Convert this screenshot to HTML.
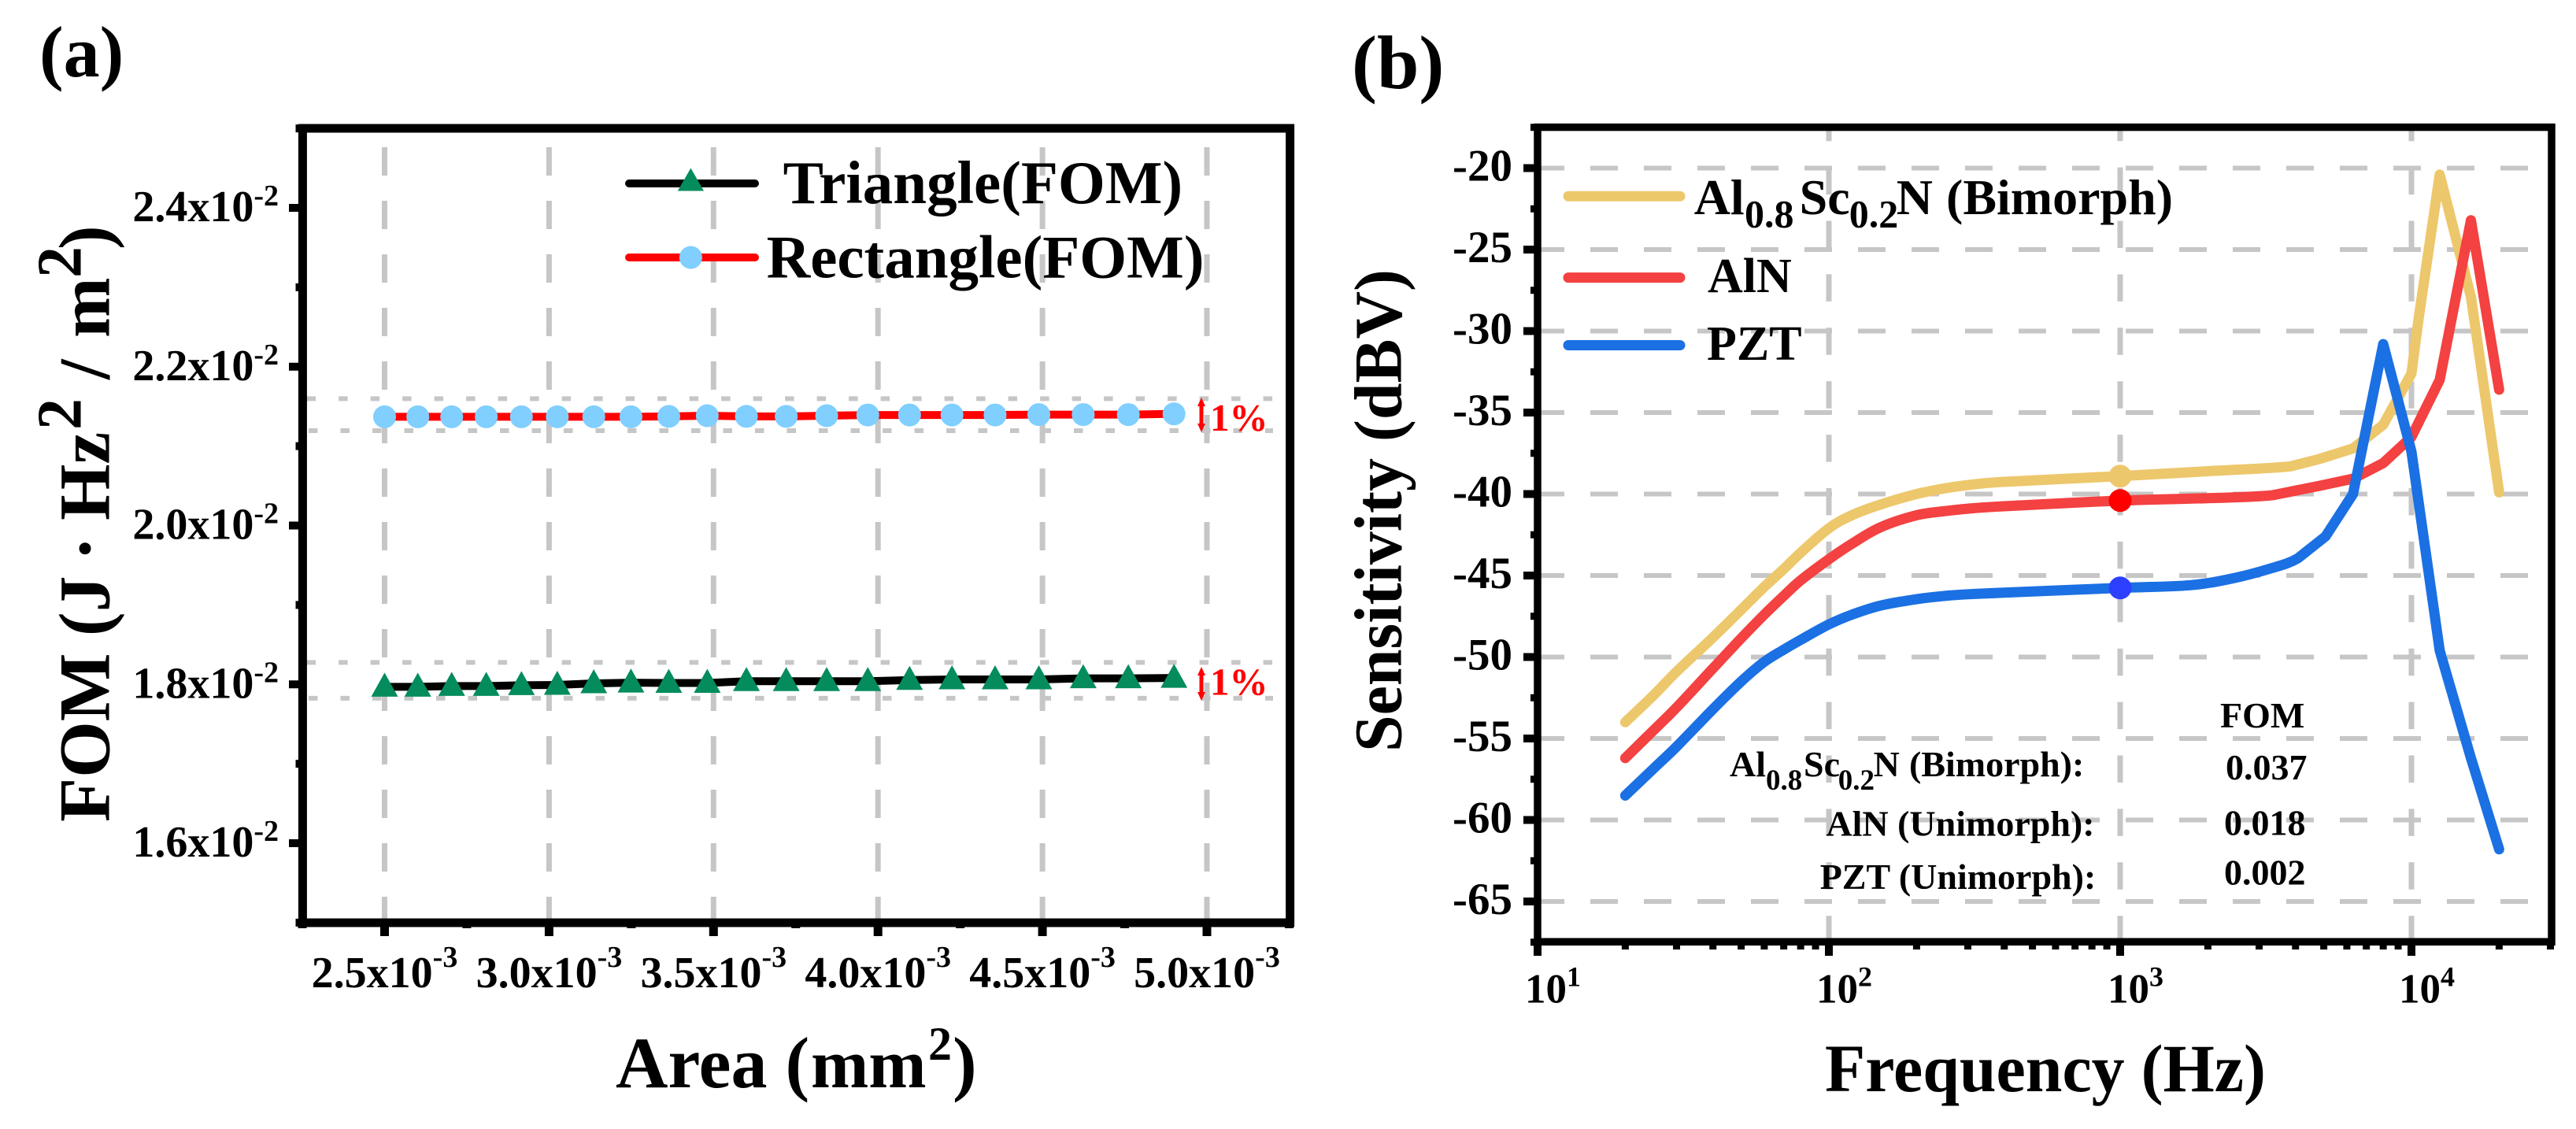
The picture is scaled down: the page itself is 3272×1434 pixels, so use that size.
<!DOCTYPE html>
<html lang="en">
<head>
<meta charset="utf-8">
<title>FOM and Sensitivity Charts</title>
<style>
html,body{margin:0;padding:0;background:#fff;}
svg{display:block;font-family:"Liberation Serif",serif;font-weight:bold;}
</style>
</head>
<body>
<svg id="chart" xmlns="http://www.w3.org/2000/svg" width="3272" height="1434" viewBox="0 0 3272 1434">
  <rect width="3272" height="1434" fill="#fff"/>
  <g id="a-grid"></g>
  <g id="b-grid"></g>
  <g id="a-series"></g>
  <g id="b-series"></g>
  <g id="a-axes"></g>
  <g id="b-axes"></g>

  <text x="50" y="97" font-size="92">(a)</text>
  <text x="1717" y="112" font-size="96">(b)</text>

  <text x="782" y="1381" font-size="92">Area (<tspan x="1030" font-size="88">mm</tspan><tspan x="1179" y="1346" font-size="60">2</tspan><tspan x="1210" y="1381">)</tspan></text>
  <g transform="translate(138.6,1044) rotate(-90)">
    <text font-size="92" x="0" y="0">FOM<tspan x="236">(J</tspan><tspan x="332">·</tspan><tspan x="383">Hz</tspan><tspan x="498" y="-36" font-size="80">2</tspan><tspan x="562" y="0">/</tspan><tspan x="615">m</tspan><tspan x="691" y="-36" font-size="80">2</tspan><tspan x="727" y="0">)</tspan></text>
  </g>

  <g>
    <line x1="799" y1="233" x2="959" y2="233" stroke="#000" stroke-width="10" stroke-linecap="round"/>
    <polygon points="877.4,213.5 894,242.5 860.8,242.5" fill="#048C5C"/>
    <text x="994.6" y="258" font-size="77">Triangle(FOM)</text>
    <line x1="799" y1="327" x2="959" y2="327" stroke="#f00" stroke-width="10" stroke-linecap="round"/>
    <circle cx="877.4" cy="327" r="14.5" fill="#80CFFF"/>
    <text x="973.6" y="352.6" font-size="77">Rectangle(FOM)</text>
  </g>

  <g fill="#f00">
    <rect x="1523.5" y="512" width="5" height="30"/>
    <polygon points="1526,505 1531,516 1521,516"/>
    <polygon points="1526,549 1531,538 1521,538"/>
    <text x="1537" y="547" font-size="49">1%</text>
  </g>
  <g fill="#f00">
    <rect x="1523.5" y="855" width="5" height="27"/>
    <polygon points="1526,847 1531,858 1521,858"/>
    <polygon points="1526,890 1531,879 1521,879"/>
    <text x="1537" y="882.6" font-size="49">1%</text>
  </g>

  <text x="2318" y="1386" font-size="86" textLength="560" lengthAdjust="spacingAndGlyphs">Frequency (Hz)</text>
  <text transform="translate(1779.4,955) rotate(-90)" font-size="86" x="0" y="0" textLength="613" lengthAdjust="spacingAndGlyphs">Sensitivity (dBV)</text>

  <g>
    <line x1="1992" y1="249.3" x2="2134" y2="249.3" stroke="#EDC76B" stroke-width="13" stroke-linecap="round"/>
    <text y="271.8" font-size="64"><tspan x="2151.7">Al</tspan><tspan x="2216" y="288.3" font-size="50">0.8</tspan><tspan x="2285.6" y="271.8">Sc</tspan><tspan x="2348.8" y="288.3" font-size="50">0.2</tspan><tspan x="2408.8" y="271.8">N</tspan><tspan x="2472">(Bimorph)</tspan></text>
    <line x1="1992" y1="352.6" x2="2134" y2="352.6" stroke="#F44141" stroke-width="13" stroke-linecap="round"/>
    <text x="2169" y="371" font-size="62">AlN</text>
    <line x1="1992" y1="438.5" x2="2134" y2="438.5" stroke="#1B70E3" stroke-width="13" stroke-linecap="round"/>
    <text x="2168" y="456.8" font-size="62">PZT</text>
  </g>

  <g font-size="46">
    <text x="2820" y="923.8">FOM</text>
    <text y="986"><tspan x="2197">Al</tspan><tspan x="2243" y="1003" font-size="37">0.8</tspan><tspan x="2291" y="986">Sc</tspan><tspan x="2334.7" y="1003" font-size="37">0.2</tspan><tspan x="2379.6" y="986">N</tspan><tspan x="2425">(Bimorph):</tspan></text>
    <text x="2827" y="990">0.037</text>
    <text x="2319.4" y="1061.7">AlN (Unimorph):</text>
    <text x="2825" y="1060.5">0.018</text>
    <text x="2311.7" y="1129">PZT (Unimorph):</text>
    <text x="2825" y="1123.7">0.002</text>
  </g>
</svg>

<script>
// ---- Panel (a) data ----
const areaValues = [2.5, 2.601, 2.704, 2.809, 2.916, 3.025, 3.136, 3.249, 3.364, 3.481, 3.6, 3.721, 3.844, 3.969, 4.096, 4.225, 4.356, 4.489, 4.624, 4.761, 4.9];
const triangleFom = [1.7969, 1.7969, 1.7979, 1.7979, 1.7989, 1.7993, 1.8012, 1.8021, 1.8017, 1.8017, 1.804, 1.804, 1.804, 1.804, 1.8054, 1.8062, 1.8062, 1.8062, 1.8076, 1.8076, 1.808];
const rectangleFom = [2.1369, 2.1369, 2.1369, 2.1369, 2.1369, 2.1369, 2.1369, 2.1369, 2.1374, 2.1383, 2.1374, 2.1374, 2.1383, 2.1392, 2.1392, 2.1392, 2.1392, 2.1397, 2.1397, 2.1397, 2.1406];
const bandValues = [2.1597, 2.1195, 1.8276, 1.7825];
const aXTicks = [2.5, 3.0, 3.5, 4.0, 4.5, 5.0];
const aXMinorTicks = [2.25, 2.75, 3.25, 3.75, 4.25, 4.75, 5.25];
const aYTicks = [2.4, 2.2, 2.0, 1.8, 1.6];
const aYMinorTicks = [2.5, 2.3, 2.1, 1.9, 1.7, 1.5];

// ---- Panel (b) data ----
const alscnFreq = [20, 25, 30, 40, 50, 60, 70, 80, 100, 120, 150, 200, 250, 300, 400, 1000, 2000, 3846, 4830, 6300, 8000, 10000, 10570, 12500, 16000, 20000];
const alscnSens = [-54, -52.35, -50.9, -48.8, -47.1, -45.7, -44.6, -43.6, -42.1, -41.3, -40.65, -40, -39.65, -39.45, -39.25, -38.9, -38.6, -38.3, -37.85, -37.2, -35.75, -32.6, -29.3, -20.4, -27.9, -39.9];
const alnFreq = [20, 25, 30, 40, 50, 60, 70, 80, 100, 120, 150, 200, 250, 300, 400, 1000, 2030, 3340, 4830, 6300, 8000, 10000, 12500, 16000, 20000];
const alnSens = [-56.2, -54.5, -53.1, -50.7, -48.85, -47.4, -46.25, -45.3, -44, -43.05, -42.05, -41.3, -41.05, -40.9, -40.75, -40.4, -40.25, -40.07, -39.5, -39.06, -38.1, -36.5, -33, -23.2, -33.6];
const pztFreq = [20, 25, 30, 40, 50, 60, 70, 80, 100, 120, 150, 200, 250, 300, 400, 1000, 1720, 2400, 3240, 4070, 5070, 6300, 8000, 10000, 12500, 16000, 20000];
const pztSens = [-58.5, -56.85, -55.5, -53.2, -51.5, -50.3, -49.55, -48.95, -48, -47.4, -46.85, -46.45, -46.25, -46.15, -46.05, -45.76, -45.6, -45.2, -44.6, -43.95, -42.6, -40, -30.8, -37.4, -49.6, -56.2, -61.8];
const bYTicks = [-20, -25, -30, -35, -40, -45, -50, -55, -60, -65];
const bYMinorTicks = [-17.5, -22.5, -27.5, -32.5, -37.5, -42.5, -47.5, -52.5, -57.5, -62.5, -67.5];
const bXExponents = [1, 2, 3, 4];
const bXMinorTicks = [20, 30, 40, 50, 60, 70, 80, 90, 200, 300, 400, 500, 600, 700, 800, 900, 2000, 3000, 4000, 5000, 6000, 7000, 8000, 9000, 20000, 30000];
const markerFreq = [1000];
const markerAlscn = [-38.9];
const markerAln = [-40.4];
const markerPzt = [-45.76];

// ---- Axis functions ----
function aX(v) { return 488.5 + (v - 2.5) / 0.5 * 208.9; }
function aY(v) { return 264 + (2.4 - v) / 0.2 * 201.75; }
function bX(f) { return 1953 + (Math.log10(f) - 1) * 370; }
function bY(v) { return 213.5 + (-20 - v) / 5 * 103.5; }

const NS = 'http://www.w3.org/2000/svg';
function mk(parentId, tag, attrs, txt) {
  const el = document.createElementNS(NS, tag);
  for (const k in attrs) el.setAttribute(k, attrs[k]);
  if (txt !== undefined) el.textContent = txt;
  document.getElementById(parentId).appendChild(el);
  return el;
}
function sup(parent, txt, size, dy) {
  const t = document.createElementNS(NS, 'tspan');
  t.setAttribute('font-size', size);
  t.setAttribute('dy', dy);
  t.textContent = txt;
  parent.appendChild(t);
}
const GRID = '#c6c6c6';

// ---- Panel (a) grid ----
aXTicks.forEach(function (v) {
  const el = mk('a-grid', 'line', {x1: aX(v), y1: 187, x2: aX(v), y2: 1168, stroke: GRID, 'stroke-width': 7, 'stroke-dasharray': '36 32'});
  
  
});
bandValues.forEach(function (v, i) {
  const el = mk('a-grid', 'line', {x1: (i % 2 ? 392 : 389.6), y1: aY(v), x2: 1617, y2: aY(v), stroke: GRID, 'stroke-width': 6, 'stroke-dasharray': '11.5 29'});
  
  
});

// ---- Panel (a) series ----
const triPath = mk('a-series', 'polyline', {points: areaValues.map(function (a, i) { return aX(a) + ',' + aY(triangleFom[i]); }).join(' '), fill: 'none', stroke: '#000', 'stroke-width': 10});


const rectPath = mk('a-series', 'polyline', {points: areaValues.map(function (a, i) { return aX(a) + ',' + aY(rectangleFom[i]); }).join(' '), fill: 'none', stroke: '#f00', 'stroke-width': 10});


areaValues.forEach(function (a, i) {
  const x = aX(a), y = aY(triangleFom[i]);
  const tri = mk('a-series', 'polygon', {points: x + ',' + (y - 18) + ' ' + (x + 17) + ',' + (y + 12.5) + ' ' + (x - 17) + ',' + (y + 12.5), fill: '#048C5C'});
  
  
  const c = mk('a-series', 'circle', {cx: x, cy: aY(rectangleFom[i]), r: 14.5, fill: '#80CFFF'});
  
  
});

// ---- Panel (a) axes ----
const aFrame = mk('a-axes', 'rect', {x: 384.4, y: 163, width: 1254.2, height: 1009, fill: 'none', stroke: '#000', 'stroke-width': 11});


aXTicks.forEach(function (v) {
  const t = mk('a-axes', 'line', {x1: aX(v), y1: 1172, x2: aX(v), y2: 1189, stroke: '#000', 'stroke-width': 11});
  
  
  const l = mk('a-axes', 'text', {x: aX(v), y: 1254, 'font-size': 56, 'text-anchor': 'middle'}, v.toFixed(1) + 'x10');
  sup(l, '-3', 38, -26);
  
  
});
aXMinorTicks.forEach(function (v) {
  const t = mk('a-axes', 'line', {x1: aX(v), y1: 1172, x2: aX(v), y2: 1179, stroke: '#000', 'stroke-width': 11});
  
  
});
aYTicks.forEach(function (v) {
  const t = mk('a-axes', 'line', {x1: 367, y1: aY(v), x2: 384, y2: aY(v), stroke: '#000', 'stroke-width': 10});
  
  
  const l = mk('a-axes', 'text', {x: 354, y: aY(v) + 17, 'font-size': 56, 'text-anchor': 'end'}, v.toFixed(1) + 'x10');
  sup(l, '-2', 38, -20);
  
  
});
aYMinorTicks.forEach(function (v) {
  const t = mk('a-axes', 'line', {x1: 375.5, y1: aY(v), x2: 384, y2: aY(v), stroke: '#000', 'stroke-width': 10});
  
  
});

// ---- Panel (b) grid ----
bYTicks.forEach(function (v) {
  const el = mk('b-grid', 'line', {x1: 1952, y1: bY(v), x2: 3211, y2: bY(v), stroke: GRID, 'stroke-width': 6, 'stroke-dasharray': '35 33'});
  
  
});
bXExponents.slice(1).forEach(function (e) {
  const x = bX(Math.pow(10, e));
  const el = mk('b-grid', 'line', {x1: x, y1: 166, x2: x, y2: 1192, stroke: GRID, 'stroke-width': 7, 'stroke-dasharray': '34.5 33.4', 'stroke-dashoffset': 21.3});
  
  
});

// ---- Panel (b) series ----
// Smooth (Catmull-Rom) through the flat region, straight segments around the resonance peaks.
function curvePath(fs, vs) {
  const px = fs.map(function (f) { return bX(f); });
  const py = vs.map(function (v) { return bY(v); });
  let d = 'M' + px[0] + ' ' + py[0];
  for (let i = 0; i < px.length - 1; i++) {
    if (fs[i + 1] <= 4100) {
      const a = Math.max(i - 1, 0), b = Math.min(i + 2, px.length - 1);
      const c1x = px[i] + (px[i + 1] - px[a]) / 6, c1y = py[i] + (py[i + 1] - py[a]) / 6;
      const c2x = px[i + 1] - (px[b] - px[i]) / 6, c2y = py[i + 1] - (py[b] - py[i]) / 6;
      d += ' C' + c1x + ' ' + c1y + ' ' + c2x + ' ' + c2y + ' ' + px[i + 1] + ' ' + py[i + 1];
    } else {
      d += ' L' + px[i + 1] + ' ' + py[i + 1];
    }
  }
  return d;
}
const curveAttrs = {fill: 'none', 'stroke-width': 13, 'stroke-linecap': 'round', 'stroke-linejoin': 'round'};
const alscnLine = mk('b-series', 'path', Object.assign({d: curvePath(alscnFreq, alscnSens), stroke: '#EDC76B'}, curveAttrs));


const alnLine = mk('b-series', 'path', Object.assign({d: curvePath(alnFreq, alnSens), stroke: '#F44141'}, curveAttrs));


const pztLine = mk('b-series', 'path', Object.assign({d: curvePath(pztFreq, pztSens), stroke: '#1B70E3'}, curveAttrs));


const alscnDot = mk('b-series', 'circle', {cx: bX(markerFreq[0]), cy: bY(markerAlscn[0]), r: 14.5, fill: '#EDC76B'});


const alnDot = mk('b-series', 'circle', {cx: bX(markerFreq[0]), cy: bY(markerAln[0]), r: 14.5, fill: '#FF0000'});


const pztDot = mk('b-series', 'circle', {cx: bX(markerFreq[0]), cy: bY(markerPzt[0]), r: 14.5, fill: '#2D3FFF'});



// ---- Panel (b) axes ----
const bFrame = mk('b-axes', 'rect', {x: 1953, y: 161.6, width: 1288, height: 1034.6, fill: 'none', stroke: '#000', 'stroke-width': 9.5});


bYTicks.forEach(function (v) {
  const t = mk('b-axes', 'line', {x1: 1935, y1: bY(v), x2: 1953, y2: bY(v), stroke: '#000', 'stroke-width': 10});
  
  
  const l = mk('b-axes', 'text', {x: 1921, y: bY(v) + 16, 'font-size': 57, 'text-anchor': 'end'}, String(v));
  
  
});
bYMinorTicks.forEach(function (v) {
  const t = mk('b-axes', 'line', {x1: 1944, y1: bY(v), x2: 1953, y2: bY(v), stroke: '#000', 'stroke-width': 9});
  
  
});
bXExponents.forEach(function (e) {
  const x = bX(Math.pow(10, e));
  const t = mk('b-axes', 'line', {x1: x, y1: 1196, x2: x, y2: 1214, stroke: '#000', 'stroke-width': 10});
  
  
  const l = mk('b-axes', 'text', {x: x - 16, y: 1273.5, 'font-size': 53}, '10');
  sup(l, String(e), 36, -21);
  
  
});
bXMinorTicks.forEach(function (f) {
  const t = mk('b-axes', 'line', {x1: bX(f), y1: 1196, x2: bX(f), y2: 1206, stroke: '#000', 'stroke-width': 9});
  
  
});
</script>
</body>
</html>
